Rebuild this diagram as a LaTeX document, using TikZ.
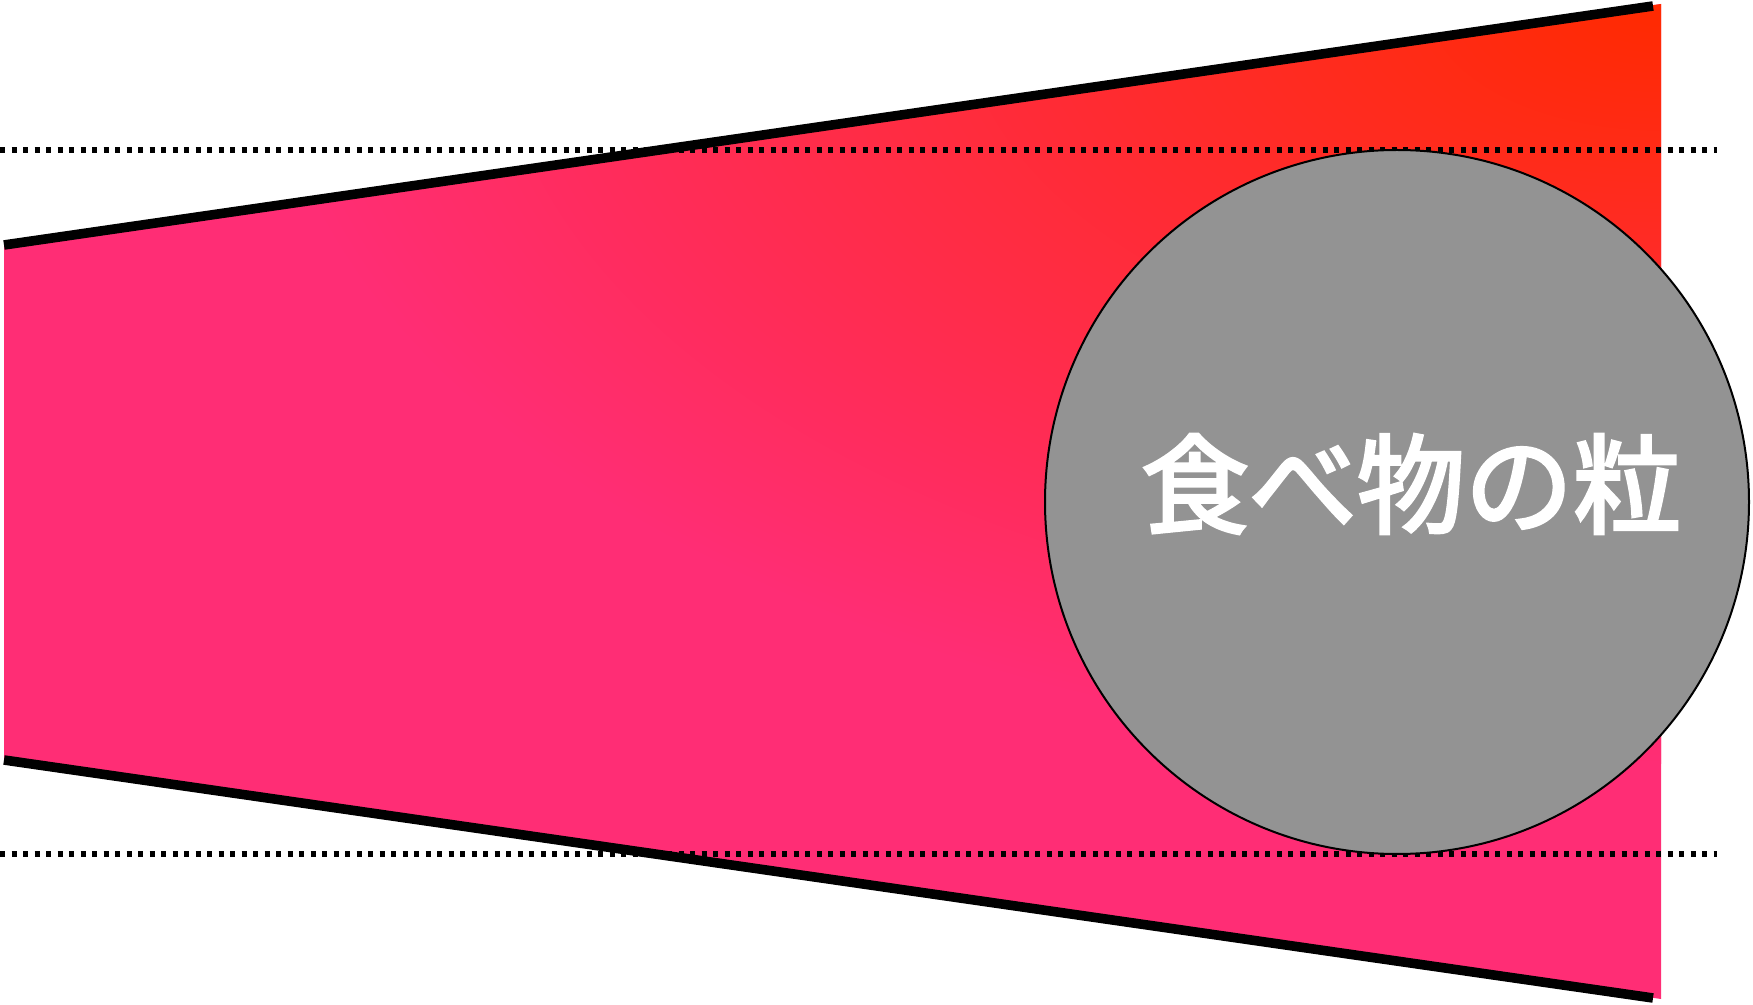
\documentclass[tikz,border=0pt]{standalone}
\usepackage{fontspec}
\newfontfamily\cjk{Noto Sans CJK JP}[FakeBold=3]
\begin{document}
\begin{tikzpicture}[x=0.5pt,y=-0.5pt,
  edge/.style={line width=4.8pt,line cap=butt},
  dotline/.style={line width=2.7pt,dash pattern=on 2.6pt off 3.15pt},
  particle/.style={circle,draw=black,line width=1pt,fill=partgray,minimum size=704*0.5pt,inner sep=0pt}]
\definecolor{pinkc}{HTML}{FF2D75}
\definecolor{redc}{HTML}{FF2A00}
\definecolor{partgray}{HTML}{939393}
\useasboundingbox (0,0) rectangle (1753,1005);
\coordinate (tl) at (4,245);
\coordinate (tr) at (1653,6);
\coordinate (bl) at (4,760);
\coordinate (br) at (1653,998);
\coordinate (ftr) at (1661,4);
\coordinate (fbr) at (1661,999);
% fill
\fill[pinkc] (tl) -- (ftr) -- (fbr) -- (bl) -- cycle;
\begin{scope}
\clip (tl) -- (ftr) -- (fbr) -- (bl) -- cycle;
\shade[inner color=redc,outer color=pinkc] (ftr) ellipse [x radius=1400, y radius=760];
\end{scope}
% dotted guides
\coordinate (d1a) at (0,150);
\coordinate (d1b) at (1717,150);
\coordinate (d2a) at (0,854);
\coordinate (d2b) at (1717,854);
\draw[dotline] (d1a) -- (d1b);
\draw[dotline] (d2a) -- (d2b);
% edges
\draw[edge] (tl) -- (tr);
\draw[edge] (bl) -- (br);
% particle
\node[particle] (p) at (1397,502) {};
\node[text=white,font=\cjk\fontsize{54pt}{60pt}\selectfont,inner sep=0pt] (lbl) at (1411,484) {食べ物の粒};
\end{tikzpicture}
\end{document}
